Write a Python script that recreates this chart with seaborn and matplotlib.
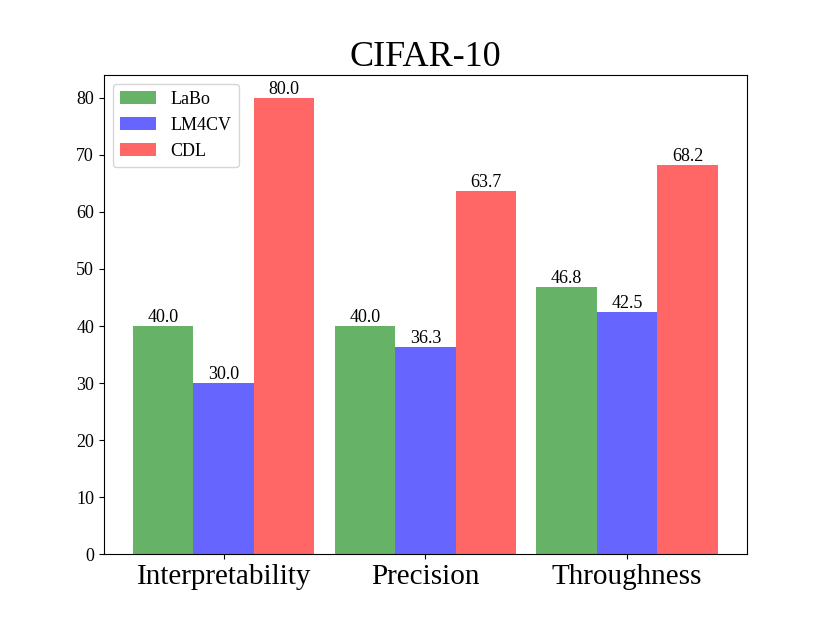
import matplotlib
matplotlib.use("Agg")
import matplotlib.pyplot as plt
import seaborn as sns
import pandas as pd

categories = ["Interpretability", "Precision", "Throughness"]
methods = ["LaBo", "LM4CV", "CDL"]
labo = [40.0, 40.0, 46.8]
lm4cv = [30.0, 36.3, 42.5]
cdl = [80.0, 63.7, 68.2]
colors = ["#66b266", "#6666ff", "#ff6666"]

plt.rcParams['font.family'] = ['Liberation Serif', 'DejaVu Serif']

rows = []
for m, vals in zip(methods, [labo, lm4cv, cdl]):
    for c, v in zip(categories, vals):
        rows.append({"Category": c, "Method": m, "Value": v})
df = pd.DataFrame(rows)

fig, ax = plt.subplots(figsize=(8.3, 6.23), dpi=100)
sns.barplot(data=df, x="Category", y="Value", hue="Method", palette=colors,
            width=0.9, saturation=1, linewidth=0, ax=ax, errorbar=None)

for cont in ax.containers:
    ax.bar_label(cont, fmt="%.1f", fontsize=13, padding=0)

ax.set_xlim(-0.595, 2.595)
ax.set_ylim(0, 84)
ax.set_xlabel("")
ax.set_ylabel("")
ax.set_title("CIFAR-10", fontsize=26)
ax.tick_params(axis='x', labelsize=21)
ax.tick_params(axis='y', labelsize=13)
ax.legend(loc="upper left", fontsize=13, framealpha=0.8)

fig.savefig("out.png", dpi=100)
